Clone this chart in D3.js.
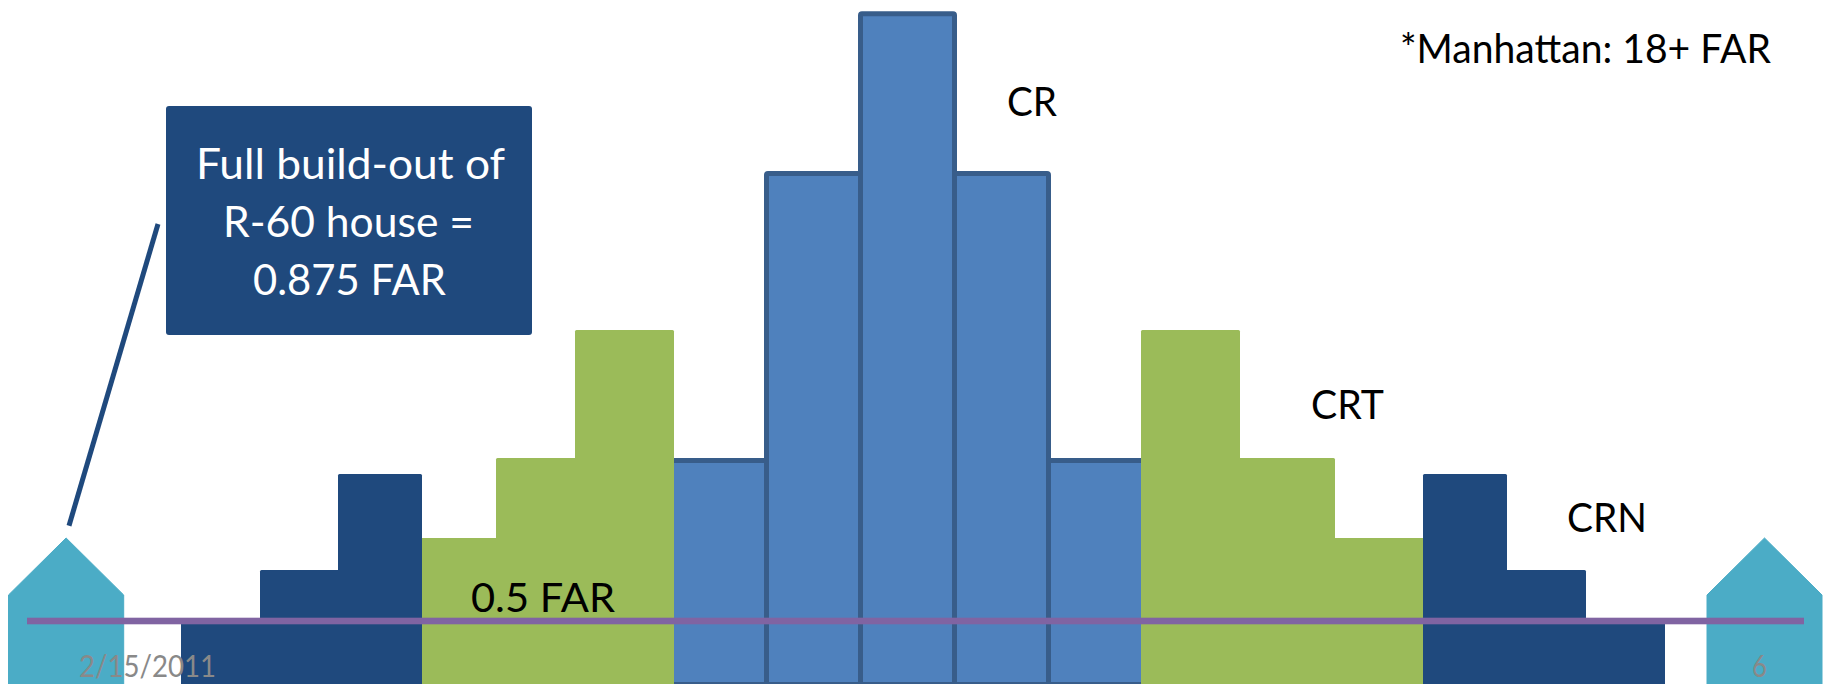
<!DOCTYPE html>
<html>
<head>
<meta charset="utf-8">
<script src="https://cdn.jsdelivr.net/npm/d3@7"></script>
<style>
  html, body { margin: 0; padding: 0; background: #fff; overflow: hidden; }
  svg { display: block; }
  text { font-family: Lato, "Open Sans", sans-serif; }
</style>
</head>
<body>
<svg id="chart" width="1827" height="684"></svg>
<script>
// Zoning envelope along a street section: width of each lot and its height in FAR.
const lotDistricts = ["CRN","CRN","CRN","CRT","CRT","CRT","CR","CR","CR","CR","CR","CRT","CRT","CRT","CRN","CRN","CRN"];
const lotWidths = [7.9, 7.84, 8.36, 7.4, 7.85, 9.95, 8.95, 9.45, 9.9, 9.4, 9.0, 9.9, 9.46, 8.88, 8.36, 7.9, 7.86];
const lotFar = [0.5, 0.886, 1.614, 1.129, 1.735, 2.705, 1.735, 3.91, 5.12, 3.91, 1.735, 2.705, 1.735, 1.129, 1.614, 0.886, 0.5];
const streetStart = 18.1;

const houseLeft = [0.85, 12.37];
const houseRight = [170.7, 182.2];
const houseShoulderFar = 0.697;
const housePeakFar = 1.129;
const referenceFar = 0.5;
const referenceSpan = [2.7, 180.4];
const leaderX = [15.8, 6.9];
const leaderFar = [3.508, 1.222];

const districtFill = { CR: "#4F81BD", CRT: "#9BBB59", CRN: "#1F497D" };
const districtOrder = ["CR", "CRT", "CRN"];

const width = 1827, height = 684;
const x = d3.scaleLinear().domain([0, 182.7]).range([0, width]);
const y = d3.scaleLinear().domain([0, 5]).range([687, 27]);

const edges = [streetStart, ...d3.cumsum(lotWidths, w => w).map(v => v + streetStart)];
const lots = lotWidths.map((w, i) => ({
  index: i, district: lotDistricts[i], x0: edges[i], x1: edges[i + 1], far: lotFar[i]
}));
// Tallest blocks go last within each district so their outlines sit on top.
const ordered = d3.sort(lots,
  d => districtOrder.indexOf(d.district),
  d => d.far);
const paintRank = new Map(ordered.map((d, i) => [d.index, i]));

// A side that meets a block painted later tucks under it; an exposed side keeps
// its edge, and outlined CR blocks pull in by half the stroke there.
const strokeInset = d => d.district === "CR" ? 2.5 : 0;
function sideOffset(d, neighbour) {
  const n = lots[neighbour];
  if (n && paintRank.get(n.index) > paintRank.get(d.index)) return 8;
  return -strokeInset(d);
}
const left = d => Math.round(x(d.x0)) - sideOffset(d, d.index - 1);
const right = d => Math.round(x(d.x1)) + sideOffset(d, d.index + 1);

const svg = d3.select("#chart");

// Houses at each end of the section
const houseLine = d3.line().x(d => x(d[0])).y(d => y(d[1]));
[houseLeft, houseRight].forEach(([a, b]) => {
  const mid = (a + b) / 2;
  svg.append("path")
    .attr("d", houseLine([[a, 0], [a, houseShoulderFar], [mid, housePeakFar], [b, houseShoulderFar], [b, 0]]) + "Z")
    .attr("fill", "#4BACC6")
    .attr("stroke", "#4BACC6")
    .attr("stroke-width", 1)
    .attr("stroke-linejoin", "round");
});

// District blocks
svg.append("g").selectAll("rect").data(ordered).join("rect")
  .attr("x", left)
  .attr("y", d => y(d.far) + strokeInset(d))
  .attr("width", d => right(d) - left(d))
  .attr("height", d => y(0) - y(d.far) - 2 * strokeInset(d))
  .attr("rx", 1.5)
  .attr("fill", d => districtFill[d.district])
  .attr("stroke", d => d.district === "CR" ? "#385D8A" : "none")
  .attr("stroke-width", 5);

// Reference line at 0.5 FAR, with its soft lighter edge
const referenceLine = (w, o) => svg.append("line")
  .attr("x1", x(referenceSpan[0])).attr("x2", x(referenceSpan[1]))
  .attr("y1", y(referenceFar)).attr("y2", y(referenceFar))
  .attr("stroke", "#8064A2").attr("stroke-width", w).attr("stroke-opacity", o);
referenceLine(8, 0.3);
referenceLine(6.2, 1);

// Leader from the callout down to the house
svg.append("line")
  .attr("x1", x(leaderX[0])).attr("y1", y(leaderFar[0]))
  .attr("x2", x(leaderX[1])).attr("y2", y(leaderFar[1]))
  .attr("stroke", "#1F497D").attr("stroke-width", 5);

// Callout box
svg.append("rect")
  .attr("x", 166).attr("y", 106).attr("width", 366).attr("height", 229).attr("rx", 3)
  .attr("fill", "#1F497D");

const labels = [
  { t: "Full build-out of", x: 196, y: 179, w: 309, size: 42, fill: "#fff" },
  { t: "R-60 house =",      x: 223, y: 237, w: 251, size: 42, fill: "#fff" },
  { t: "0.875 FAR",         x: 253, y: 295, w: 193, size: 42, fill: "#fff" },
  { t: "*Manhattan: 18+ FAR", x: 1400, y: 63, w: 371, size: 41, fill: "#000" },
  { t: "CR",      x: 1007, y: 116, w: 50,  size: 41, fill: "#000" },
  { t: "CRT",     x: 1311, y: 419, w: 73,  size: 41, fill: "#000" },
  { t: "CRN",     x: 1567, y: 532, w: 80,  size: 41, fill: "#000" },
  { t: "0.5 FAR", x: 471,  y: 612, w: 144, size: 41, fill: "#000" },
  { t: "2/15/2011", x: 79, y: 677, w: 137, size: 30, fill: "#898989" },
  { t: "6",       x: 1752, y: 677, w: 15,  size: 30, fill: "#898989" }
];
svg.append("g").selectAll("text").data(labels).join("text")
  .attr("x", d => d.x).attr("y", d => d.y)
  .attr("font-size", d => d.size)
  .attr("fill", d => d.fill)
  .attr("textLength", d => d.w)
  .attr("lengthAdjust", "spacingAndGlyphs")
  .text(d => d.t);
</script>
</body>
</html>
